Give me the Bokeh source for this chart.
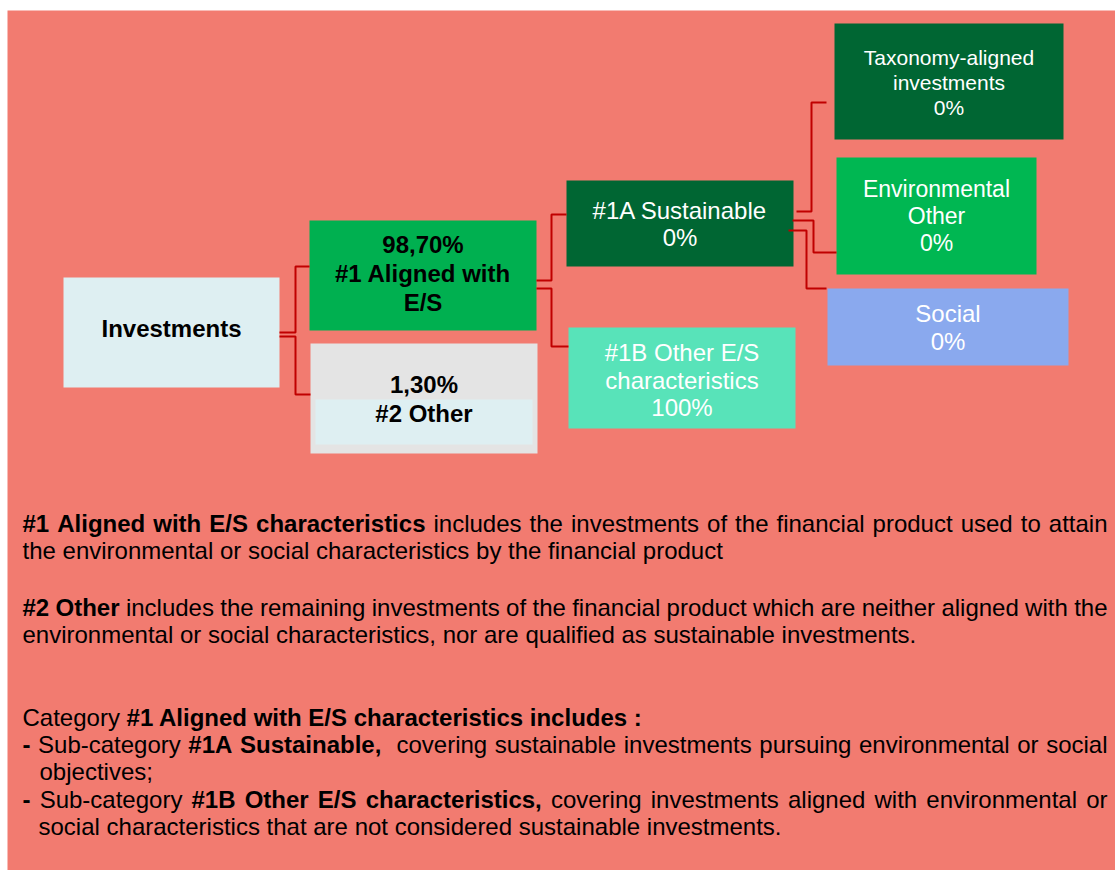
from bokeh.plotting import figure
from bokeh.models import Range1d, ColumnDataSource
from bokeh.core.properties import value
from bokeh.embed import file_html
from bokeh.resources import INLINE

# ---------------- DATA ----------------
box_names = ["Investments", "#1 Aligned with E/S", "#2 Other", "#1A Sustainable",
             "#1B Other E/S characteristics", "Taxonomy-aligned investments",
             "Environmental Other", "Social"]
box_values = ["", "98,70%", "1,30%", "0%", "100%", "0%", "0%", "0%"]
# label lines as they wrap in the boxes ({v} = value)
box_lines = [
    ["Investments"],
    ["{v}", "#1 Aligned with", "E/S"],
    ["{v}", "#2 Other"],
    ["#1A Sustainable", "{v}"],
    ["#1B Other E/S", "characteristics", "{v}"],
    ["Taxonomy-aligned", "investments", "{v}"],
    ["Environmental", "Other", "{v}"],
    ["Social", "{v}"],
]
# parent -> child links of the tree
links_parent = [0, 0, 1, 1, 3, 3, 3]
links_child = [1, 2, 3, 4, 5, 6, 7]

# explanatory text: lines made of (text, bold) runs, and whether justified
para_lines = [
    [("#1 Aligned with E/S characteristics", True), (" includes the investments of the financial product used to attain", False)],
    [("the environmental or social characteristics by the financial product", False)],
    [("#2 Other", True), (" includes the remaining investments of the financial product which are neither aligned with the", False)],
    [("environmental or social characteristics, nor are qualified as sustainable investments.", False)],
    [("Category ", False), ("#1 Aligned with E/S characteristics includes :", True)],
    [("- ", True), ("Sub-category ", False), ("#1A Sustainable,", True), ("  covering sustainable investments pursuing environmental or social", False)],
    [("objectives;", False)],
    [("- ", True), ("Sub-category ", False), ("#1B Other E/S characteristics,", True), (" covering investments aligned with environmental or", False)],
    [("social characteristics that are not considered sustainable investments.", False)],
]
para_justify = [True, False, True, False, False, True, False, True, False]

# ---------------- LAYOUT / STYLE ----------------
W, H = 1115, 870
BG = "#F27B70"
box_left = [63, 309, 310, 566, 568, 834, 836, 827]
box_right = [279, 536, 537, 793, 795, 1063, 1036, 1068]
box_top = [277, 220, 343, 180, 327, 23, 157, 288]
box_bottom = [387, 330, 453, 266, 428, 139, 274, 365]
box_color = ["#DEEFF2", "#00B050", "#E4E4E4", "#006633", "#58E3B9", "#006633", "#00B752", "#8AA9EE"]
box_text_color = ["black", "black", "black", "white", "white", "white", "white", "white"]
box_bold = [True, True, True, False, False, False, False, False]
box_font_px = [24, 24, 24, 24, 24, 21, 23, 24]
box_line_gap = [28, 29, 29, 27, 27.5, 25, 27, 28]
box_text_dy = [-4, -2, 0, 0, 2, 1, 0, 0]

# connectors: start x, start y, elbow x, end y, end x
conn_x0 = [279, 279, 536, 536, 796, 792, 788]
conn_y0 = [332, 336, 280, 288, 211, 220, 230]
conn_xm = [295, 295, 551, 551, 811, 813, 806]
conn_y1 = [266, 394, 214, 346, 102, 252, 288]
conn_x1 = [309, 310, 566, 568, 826, 836, 826]

para_x0 = [22, 22, 22, 22, 22, 22, 39, 22, 38]
para_y = [523, 550, 607, 634, 717, 744, 771, 799, 826]
PARA_RIGHT = 1107
PARA_PX = 24
FONT = "Liberation Sans"

# Arial / Liberation Sans advance widths (1/1000 em)
REG = dict(zip(" !#%,-./0123456789:;ABCDEFGHIJKLMNOPQRSTUVWXYZabcdefghijklmnopqrstuvwxyz",
               [278, 278, 556, 889, 278, 333, 278, 278] + [556] * 10 + [278, 278] +
               [667, 667, 722, 722, 667, 611, 778, 722, 278, 500, 667, 556, 833, 722, 778, 667, 778, 722, 667, 611, 722, 667, 944, 667, 667, 611] +
               [556, 556, 500, 556, 556, 278, 556, 556, 222, 222, 500, 222, 833, 556, 556, 556, 556, 333, 500, 278, 556, 500, 722, 500, 500, 500]))
BLD = dict(zip(" !#%,-./0123456789:;ABCDEFGHIJKLMNOPQRSTUVWXYZabcdefghijklmnopqrstuvwxyz",
               [278, 333, 556, 889, 278, 333, 278, 278] + [556] * 10 + [333, 333] +
               [722, 722, 722, 722, 667, 611, 778, 722, 278, 556, 722, 611, 833, 722, 778, 667, 778, 722, 667, 611, 722, 667, 944, 667, 667, 611] +
               [556, 611, 556, 611, 556, 333, 611, 611, 278, 278, 556, 278, 889, 611, 611, 611, 611, 389, 556, 333, 611, 556, 778, 556, 556, 500]))


def tw(s, bold):
    t = BLD if bold else REG
    return sum(t.get(c, 556) for c in s) * PARA_PX / 1000.0


p = figure(width=W, height=H, x_range=Range1d(0, W), y_range=Range1d(H, 0),
           output_backend="svg", toolbar_location=None, min_border=0,
           x_axis_type=None, y_axis_type=None)
p.grid.visible = False
p.outline_line_color = None
p.background_fill_color = "white"
p.border_fill_color = "white"

# background panel
p.quad(left=[7], right=[W], top=[10], bottom=[H], fill_color=BG, line_color=None)

# boxes
p.quad(source=ColumnDataSource(dict(l=box_left, r=box_right, t=box_top, b=box_bottom, c=box_color)),
       left="l", right="r", top="t", bottom="b", fill_color="c", line_color=None)
# inner light band of "#2 Other" box
p.quad(left=[box_left[2] + 5], right=[box_right[2] - 5], top=[box_top[2] + 56], bottom=[box_bottom[2] - 9],
       fill_color="#DEEFF2", line_color=None)

# connectors
xs, ys = [], []
for x0, y0, xm, y1, x1 in zip(conn_x0, conn_y0, conn_xm, conn_y1, conn_x1):
    xs.append([x0, xm, xm, x1])
    ys.append([y0, y0, y1, y1])
p.multi_line(xs=xs, ys=ys, line_color="#C00000", line_width=2)

# box texts
for i, lines in enumerate(box_lines):
    cx = (box_left[i] + box_right[i]) / 2
    cy = (box_top[i] + box_bottom[i]) / 2 + box_text_dy[i]
    n = len(lines)
    txt = [ln.replace("{v}", box_values[i]) for ln in lines]
    yy = [cy + (k - (n - 1) / 2) * box_line_gap[i] for k in range(n)]
    p.text(x=[cx] * n, y=yy, text=txt, text_align="center", text_baseline="middle",
           text_font=value(FONT), text_font_size=f"{box_font_px[i]}px",
           text_font_style="bold" if box_bold[i] else "normal", text_color=box_text_color[i])

# paragraph texts
items = {True: dict(x=[], y=[], text=[]), False: dict(x=[], y=[], text=[])}
for runs, just, x0, y in zip(para_lines, para_justify, para_x0, para_y):
    natural = sum(tw(t, b) for t, b in runs)
    nsp = sum(t.count(" ") for t, b in runs)
    if just:
        extra = (PARA_RIGHT - x0 - natural) / max(nsp, 1)
        x = x0
        for t, b in runs:
            word = ""
            for ch in t:
                if ch == " ":
                    if word:
                        items[b]["x"].append(x); items[b]["y"].append(y); items[b]["text"].append(word)
                        x += tw(word, b)
                        word = ""
                    x += tw(" ", b) + extra
                else:
                    word += ch
            if word:
                items[b]["x"].append(x); items[b]["y"].append(y); items[b]["text"].append(word)
                x += tw(word, b)
    else:
        x = x0
        for t, b in runs:
            items[b]["x"].append(x); items[b]["y"].append(y); items[b]["text"].append(t)
            x += tw(t, b)

for b in (False, True):
    p.text(source=ColumnDataSource(items[b]), x="x", y="y", text="text",
           text_align="left", text_baseline="middle", text_font=value(FONT),
           text_font_size=f"{PARA_PX}px", text_font_style="bold" if b else "normal",
           text_color="black")

open("out.html", "w").write(file_html(p, INLINE))
